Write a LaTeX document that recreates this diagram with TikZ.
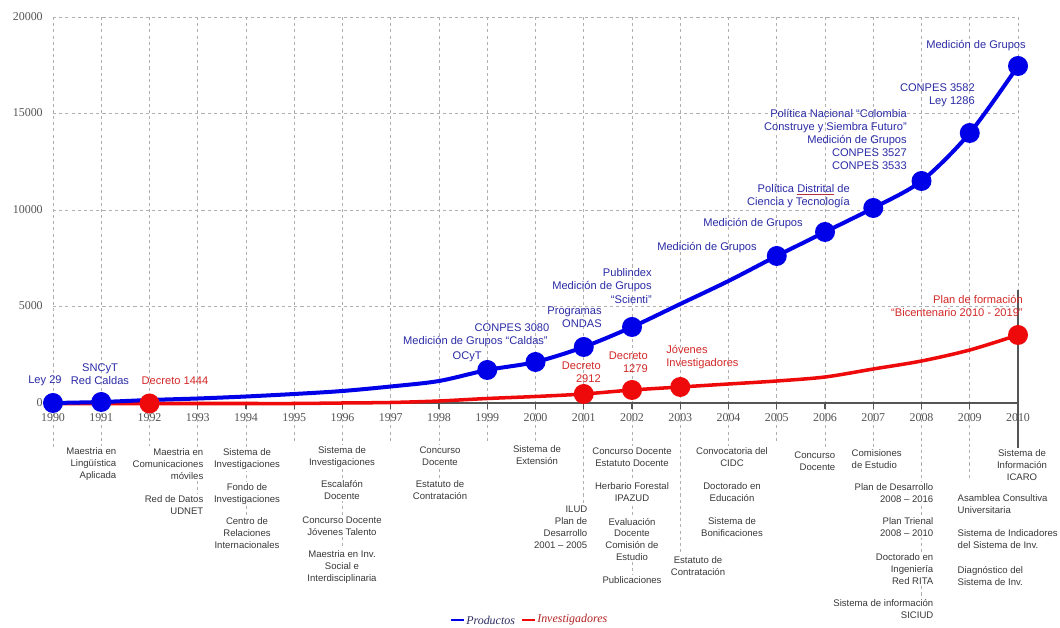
\documentclass[tikz,border=0pt]{standalone}
\usepackage{fontspec}
\setmainfont{Liberation Sans}
\newfontfamily\axisfont{Liberation Serif}
\definecolor{bluec}{HTML}{0000E8}
\definecolor{redc}{HTML}{EE0A0A}
\definecolor{bluetxt}{HTML}{2B2BA6}
\definecolor{redtxt}{HTML}{D42828}
\definecolor{graytxt}{HTML}{383838}
\definecolor{gridc}{HTML}{B0B0B0}
\definecolor{axisc}{HTML}{555555}
\definecolor{spellc}{HTML}{B03040}
\begin{document}
\begin{tikzpicture}[x=0.025cm,y=-0.025cm,
  gridln/.style={draw=gridc, line width=0.6pt, dash pattern=on 2.2pt off 2.2pt},
  axln/.style={draw=axisc, line width=1pt},
  bluecurve/.style={draw=bluec, line width=2.85pt, line cap=round, line join=round},
  redcurve/.style={draw=redc, line width=2.5pt, line cap=round, line join=round},
  bdot/.style={circle, fill=bluec, minimum size=0.5cm, inner sep=0pt},
  rdot/.style={circle, fill=redc, minimum size=0.5cm, inner sep=0pt},
  blab/.style={text=bluetxt, font=\fontsize{7.9}{9.3}\selectfont, inner sep=0pt},
  rlab/.style={text=redtxt, font=\fontsize{7.9}{9.3}\selectfont, inner sep=0pt},
  glab/.style={text=graytxt, font=\fontsize{6.8}{8.5}\selectfont, fill=white, inner sep=1pt},
  ylab/.style={text=axisc, font=\axisfont\fontsize{8.5}{10}\selectfont, inner sep=0pt},
  leg/.style={font=\axisfont\itshape\fontsize{8.5}{10}\selectfont, inner sep=0pt}
]
\useasboundingbox (0,0) rectangle (1060,628);
\clip (0,0) rectangle (1060,628);
\fill[white] (0,0) rectangle (1060,628);

% horizontal grid
\foreach \yy in {17,113,210,306} \draw[gridln] (53,\yy) -- (1018,\yy);
% vertical grid (extending below axis)
\foreach \i/\b in {0/450,1/448,2/446,3/505,4/540,5/442,6/562,7/442,8/490,9/442,10/450,11/505,12/578,13/556,14/446,15/442,16/470,17/450,18/605,19/480,20/300}
  \draw[gridln] ({53+48.25*\i},17) -- ({53+48.25*\i},\b);
\draw[axln] (1018,290) -- (1018,455);
% x axis
\draw[axln] (53,403) -- (1018,403);
\foreach \i in {0,...,20} {
  \draw[axln] ({53+48.25*\i},403) -- ({53+48.25*\i},409);
  \pgfmathtruncatemacro{\yr}{1990+\i}
  \node[ylab] (yr\i) at ({53+48.25*\i},418) {\yr};
}
% y labels
\foreach \v/\yy in {20000/17,15000/113,10000/210,5000/306,0/403}
  \node[ylab, anchor=east] (yl\v) at (43,\yy) {\v};

% curve points
\foreach \i/\yy in {0/403,1/402,2/400,3/398.5,4/396.5,5/394,6/391,7/386.5,8/381,9/370,10/362,11/347,12/327,13/304,14/281,15/256,16/232,17/208,18/181,19/133,20/66}
  \coordinate (pb\i) at ({53+48.25*\i},\yy);
\foreach \i/\yy in {0/403.5,1/403.5,2/403.5,3/403.5,4/403.5,5/403.5,6/403,7/402.5,8/401,9/398.5,10/396.5,11/394,12/390,13/387,14/384,15/381,16/377,17/369,18/361,19/350,20/335}
  \coordinate (pr\i) at ({53+48.25*\i},\yy);

\draw[redcurve] plot[smooth, tension=0.5] coordinates {(pr0) (pr1) (pr2) (pr3) (pr4) (pr5) (pr6) (pr7) (pr8) (pr9) (pr10) (pr11) (pr12) (pr13) (pr14) (pr15) (pr16) (pr17) (pr18) (pr19) (pr20)};
\draw[bluecurve] plot[smooth, tension=0.5] coordinates {(pb0) (pb1) (pb2) (pb3) (pb4) (pb5) (pb6) (pb7) (pb8) (pb9) (pb10) (pb11) (pb12) (pb13) (pb14) (pb15) (pb16) (pb17) (pb18) (pb19) (pb20)};

\foreach \i in {0,1,9,10,11,12,15,16,17,18,19,20} \node[bdot] (bd\i) at (pb\i) {};
\foreach \i in {2,11,12,13,20} \node[rdot] (rd\i) at (pr\i) {};

% upper labels
\node[blab] (l1990) at (45,381) {Ley 29};
\node[blab, align=center] (l1991) at (100,374) {SNCyT\\Red Caldas};
\node[rlab] (r1992) at (175,381) {Decreto 1444};
\node[blab, anchor=east] (l1999a) at (482,357) {OCyT};
\node[blab, anchor=east] (l1999b) at (548,342) {Medición de Grupos “Caldas”};
\node[blab] (l2000) at (512,328) {CONPES 3080};
\node[blab, anchor=east, align=right] (l2001) at (602,317.5) {Programas\\ONDAS};
\node[blab, anchor=east, align=right] (l2002) at (652,286) {Publindex\\Medición de Grupos\\“Scienti”};
\node[rlab, anchor=east, align=right] (r2001) at (601,372.5) {Decreto\\2912};
\node[rlab, anchor=east, align=right] (r2002) at (648,362.5) {Decreto\\1279};
\node[rlab, anchor=west, align=left] (r2003) at (666,357.5) {Jóvenes\\Investigadores};
\node[blab, anchor=east] (l2005) at (757,248) {Medición de Grupos};
\node[blab, anchor=east] (l2006) at (803,224) {Medición de Grupos};
\node[blab, anchor=east, align=right] (l2007) at (850,196) {Política {\color{spellc}\underline{\color{bluetxt}Distrital}} de\\Ciencia y Tecnología};
\node[blab, anchor=east, align=right] (l2008) at (907,139.5) {Política Nacional “Colombia\\Construye y Siembra Futuro”\\Medición de Grupos\\CONPES 3527\\CONPES 3533};
\node[blab, anchor=east, align=right] (l2009) at (975,95) {CONPES 3582\\Ley 1286};
\node[blab] (l2010) at (976,46) {Medición de Grupos};
\node[rlab, anchor=east, align=right] (r2010) at (1023,306) {Plan de formación\\“Bicentenario 2010 - 2019”};

% lower labels
\node[glab, anchor=east, align=right] (c1991) at (118,464) {Maestria en\\Lingüística\\Aplicada};
\node[glab, anchor=east, align=right] (c1993a) at (205,464) {Maestria en\\Comunicaciones\\móviles};
\node[glab, anchor=east, align=right] (c1993b) at (205,505) {Red de Datos\\UDNET};
\node[glab, align=center] (c1994a) at (247,459.5) {Sistema de\\Investigaciones};
\node[glab, align=center] (c1994b) at (247,494) {Fondo de\\Investigaciones};
\node[glab, align=center] (c1994c) at (247,533.5) {Centro de\\Relaciones\\Internacionales};
\node[glab, align=center] (c1996a) at (342,457) {Sistema de\\Investigaciones};
\node[glab, align=center] (c1996b) at (342,490.5) {Escalafón\\Docente};
\node[glab, align=center] (c1996c) at (342,526) {Concurso Docente\\Jóvenes Talento};
\node[glab, align=center] (c1996d) at (342,567) {Maestria en Inv.\\Social e\\Interdisciplinaria};
\node[glab, align=center] (c1998a) at (440,456) {Concurso\\Docente};
\node[glab, align=center] (c1998b) at (440,490.5) {Estatuto de\\Contratación};
\node[glab, align=center] (c2000) at (537,455) {Sistema de\\Extensión};
\node[glab, anchor=east, align=right] (c2001) at (589,527) {ILUD\\Plan de\\Desarrollo\\2001 -- 2005};
\node[glab, align=center] (c2002a) at (632,457) {Concurso Docente\\Estatuto Docente};
\node[glab, align=center] (c2002b) at (632,492) {Herbario Forestal\\IPAZUD};
\node[glab, align=center] (c2002c) at (632,539.5) {Evaluación\\Docente\\Comisión de\\Estudio};
\node[glab, align=center] (c2002d) at (632,580) {Publicaciones};
\node[glab, align=center] (c2003) at (698,566) {Estatuto de\\Contratación};
\node[glab, align=center] (c2004a) at (732,457) {Convocatoria del\\CIDC};
\node[glab, align=center] (c2004b) at (732,492) {Doctorado en\\Educación};
\node[glab, align=center] (c2004c) at (732,527) {Sistema de\\Bonificaciones};
\node[glab, anchor=east, align=right] (c2006) at (837,461) {Concurso\\Docente};
\node[glab, anchor=west, align=left] (c2007) at (850,459.5) {Comisiones\\de Estudio};
\node[glab, anchor=east, align=right] (c2008a) at (935,493) {Plan de Desarrollo\\2008 -- 2016};
\node[glab, anchor=east, align=right] (c2008b) at (935,527) {Plan Trienal\\2008 -- 2010};
\node[glab, anchor=east, align=right] (c2008c) at (935,569) {Doctorado en\\Ingeniería\\Red RITA};
\node[glab, anchor=east, align=right] (c2008d) at (935,609) {Sistema de información\\SICIUD};
\node[glab, anchor=west, align=left] (c2009a) at (956,504) {Asamblea Consultiva\\Universitaria};
\node[glab, anchor=west, align=left] (c2009b) at (956,539.5) {Sistema de Indicadores\\del Sistema de Inv.};
\node[glab, anchor=west, align=left] (c2009c) at (956,576) {Diagnóstico del\\Sistema de Inv.};
\node[glab, align=center] (c2010) at (1022,465) {Sistema de\\Información\\ICARO};

% legend
\coordinate (lgb1) at (451,620); \coordinate (lgb2) at (464,620);
\coordinate (lgr1) at (522,620); \coordinate (lgr2) at (535,620);
\draw[draw=bluec, line width=2pt] (lgb1) -- (lgb2);
\node[leg, text=graytxt!80!blue, anchor=west] (lgp) at (466,620) {Productos};
\draw[draw=redc, line width=2pt] (lgr1) -- (lgr2);
\node[leg, text=redtxt!85!black, anchor=west] (lgi) at (537,620) {Investigadores};
\end{tikzpicture}
\end{document}
